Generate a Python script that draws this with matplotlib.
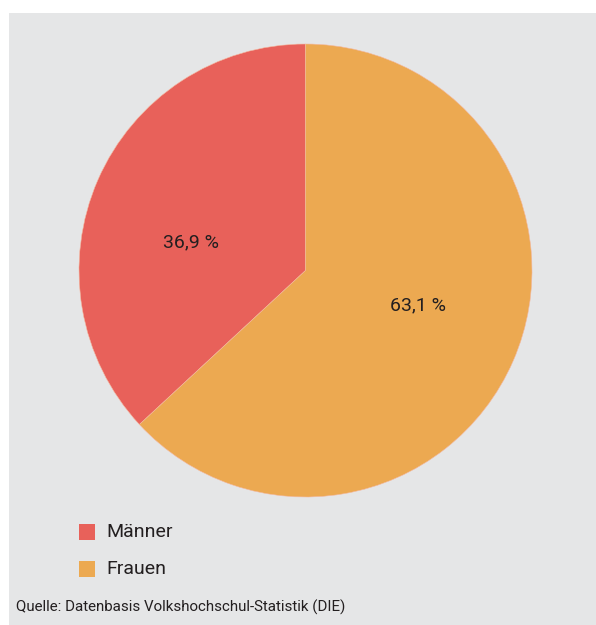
import matplotlib.pyplot as plt
from matplotlib.patches import Rectangle
from matplotlib import font_manager

labels = ['Männer', 'Frauen']
shares = [36.9, 63.1]
colors = ['#e8615a', '#eca951']
source = 'Quelle: Datenbasis Volkshochschul-Statistik (DIE)'

# narrow sans if there is one, else plain
available = {f.name for f in font_manager.fontManager.ttflist}
font = 'DejaVu Sans'
for name in ['Liberation Sans Narrow', 'Roboto', 'Open Sans']:
    if name in available:
        font = name
        break
plt.rcParams['font.family'] = font

W, H = 596, 625
fig = plt.figure(figsize=(W / 100, H / 100), dpi=100)
fig.patch.set_facecolor('white')

# grey panel
fig.add_artist(Rectangle((9 / W, 0), 1, 1 - 13 / H, transform=fig.transFigure,
                         facecolor='#e5e6e7', edgecolor='none', zorder=0))

cx, cy, r = 305.5, 270.5, 226.5
ax = fig.add_axes([(cx - r) / W, (H - cy - r) / H, 2 * r / W, 2 * r / H])
ax.set_facecolor('none')
ax.pie(shares, colors=colors, startangle=90, counterclock=True, radius=1,
       wedgeprops=dict(edgecolor='#f4b8a0', linewidth=0.4))
ax.set_xlim(-1, 1)
ax.set_ylim(-1, 1)
ax.set_aspect('equal')
ax.axis('off')

def pct(v):
    return '{:.1f} %'.format(v).replace('.', ',')

ax.text(-0.505, 0.126, pct(shares[0]), ha='center', va='center', fontsize=14, color='#231f20')
ax.text(0.497, -0.152, pct(shares[1]), ha='center', va='center', fontsize=14, color='#231f20')

# legend
for i, (lab, col) in enumerate(zip(labels, colors)):
    y0 = 524 + i * 37
    fig.add_artist(Rectangle((79 / W, 1 - (y0 + 16) / H), 16 / W, 16 / H,
                             transform=fig.transFigure, facecolor=col, edgecolor='none'))
    fig.text(106 / W, 1 - (y0 + 8) / H, lab, ha='left', va='center',
             fontsize=14, color='#231f20')

fig.text(16 / W, 1 - 607 / H, source, ha='left', va='center', fontsize=10.9, color='#231f20')

fig.savefig('out.png', dpi=100)
